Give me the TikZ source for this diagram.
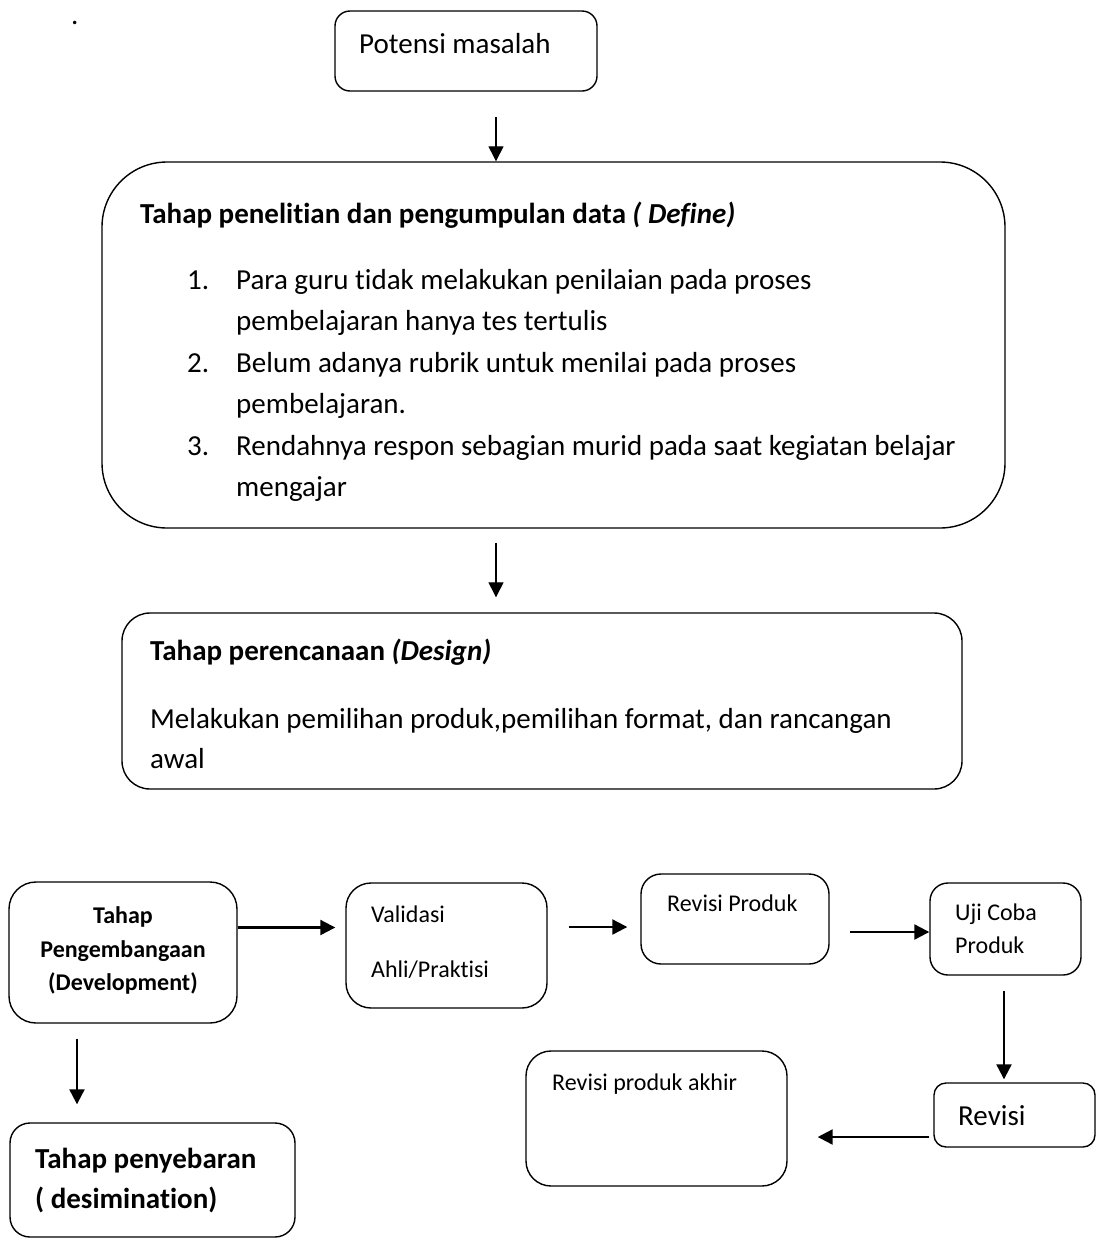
\documentclass[tikz,border=0pt]{standalone}
\usepackage{fontspec}
\setmainfont{Carlito}[Ligatures=NoCommon]
\usetikzlibrary{arrows.meta}

\begin{document}
\begin{tikzpicture}[x=1pt,y=-1pt,line join=round,
  box/.style={draw,line width=1.4pt,rounded corners=#1,inner sep=0pt},
  big/.style={inner sep=0pt,anchor=base west,font=\fontsize{29}{35}\selectfont},
  small/.style={inner sep=0pt,anchor=base west,font=\fontsize{24}{29}\selectfont},
  arrT/.style={-{Triangle[length=15pt,width=15pt]},line width=1.3pt},
  arrB/.style={-{Triangle[length=15pt,width=15pt]},line width=2.2pt}]
  \useasboundingbox (0,0) rectangle (1097,1240);
  \node[big] (dot) at (71,24) {.};
  % upper column
  \node[box=15pt,minimum width=262pt,minimum height=80pt] (potensi) at (466,51) {};
  \node[big] (potensiT) at (359,53) {Potensi masalah};
  \node[box=65pt,minimum width=903pt,minimum height=366pt] (define) at (553.5,345) {};
  \node[big] (defineT) at (140,223) {\bfseries Tahap penelitian dan pengumpulan data \textit{( Define)}};
  \node[big] (n1) at (187,289) {1.};
  \node[big] (l1a) at (236,289) {Para guru tidak melakukan penilaian pada proses};
  \node[big] (l1b) at (236,330) {pembelajaran hanya tes tertulis};
  \node[big] (n2) at (187,372) {2.};
  \node[big] (l2a) at (236,372) {Belum adanya rubrik untuk menilai pada proses};
  \node[big] (l2b) at (236,413) {pembelajaran.};
  \node[big] (n3) at (187,455) {3.};
  \node[big] (l3a) at (236,455) {Rendahnya respon sebagian murid pada saat kegiatan belajar};
  \node[big] (l3b) at (236,496) {mengajar};
  \node[box=28pt,minimum width=840pt,minimum height=176pt] (design) at (542,701) {};
  \node[big] (designT) at (150,660) {\bfseries Tahap perencanaan \textit{(Design)}};
  \node[big] (d1) at (150,728) {Melakukan pemilihan produk,pemilihan format, dan rancangan};
  \node[big] (d2) at (150,768) {awal};
  \draw[arrT] ([xshift=30pt,yshift=-25pt]potensi.south) -- ([xshift=-57.5pt]define.north);
  \draw[arrT] ([xshift=-57.5pt,yshift=-14pt]define.south) -- ([xshift=-46pt,yshift=15pt]design.north);
  % lower row
  \node[box=27pt,minimum width=228pt,minimum height=141pt] (dev) at (123,952.5) {};
  \node[small,anchor=base] (devA) at (123,923) {\bfseries Tahap};
  \node[small,anchor=base] (devB) at (123,957) {\bfseries Pengembangaan};
  \node[small,anchor=base] (devC) at (123,990) {\bfseries (Development)};
  \node[box=25pt,minimum width=201pt,minimum height=125pt] (val) at (446.5,945.5) {};
  \node[small] (valA) at (371,922) {Validasi};
  \node[small] (valB) at (371,977) {Ahli/Praktisi};
  \node[box=20pt,minimum width=188pt,minimum height=90pt] (revP) at (735,919) {};
  \node[small] (revPT) at (667,911) {Revisi Produk};
  \node[box=18pt,minimum width=151pt,minimum height=92pt] (uji) at (1005.5,929) {};
  \node[small] (ujiA) at (955,920) {Uji Coba};
  \node[small] (ujiB) at (955,953) {Produk};
  \node[box=12pt,minimum width=161pt,minimum height=64pt] (revisi) at (1014.5,1115) {};
  \node[big] (revisiT) at (958,1125) {Revisi};
  \node[box=25pt,minimum width=261pt,minimum height=135pt] (akhir) at (656.5,1118.5) {};
  \node[small] (akhirT) at (552,1090) {Revisi produk akhir};
  \node[box=20pt,minimum width=285pt,minimum height=114pt] (sebar) at (152.5,1180) {};
  \node[big] (sebarA) at (35,1168) {\bfseries Tahap penyebaran};
  \node[big] (sebarB) at (35,1208) {\bfseries ( desimination)};
  \draw[arrB] ([yshift=25pt]dev.east) -- ([xshift=-10pt,yshift=18pt]val.west);
  \draw[arrB] ([xshift=21pt,yshift=18.5pt]val.east) -- ([xshift=-13pt,yshift=-8pt]revP.west);
  \draw[arrB] ([xshift=20pt,yshift=-13pt]revP.east) -- ([yshift=-3pt]uji.west);
  \draw[arrB] ([xshift=-1.5pt,yshift=-15pt]uji.south) -- ([xshift=-10.5pt,yshift=3pt]revisi.north);
  \draw[arrB] ([xshift=-4pt,yshift=-22pt]revisi.west) -- ([xshift=30pt,yshift=-18.5pt]akhir.east);
  \draw[arrB] ([xshift=-46pt,yshift=-15pt]dev.south) -- ([xshift=-75.5pt,yshift=18pt]sebar.north);
\end{tikzpicture}
\end{document}
